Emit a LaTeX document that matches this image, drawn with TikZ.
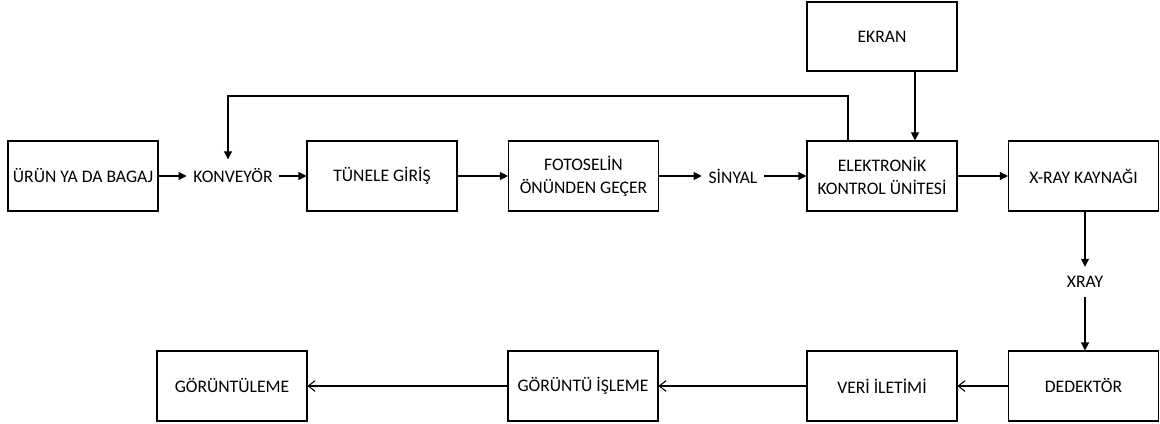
\documentclass[tikz,border=0pt]{standalone}
\usepackage{fontspec}
\setmainfont{Carlito}
\usetikzlibrary{arrows.meta,calc}

\tikzset{
  blk/.style={draw, line width=0.8pt, minimum width=112.5pt, minimum height=52.5pt,
              align=center, inner sep=2pt},
  lbl/.style={inner xsep=5pt, inner ysep=7pt},
  fa/.style={line width=0.8pt, -{Triangle[length=6pt,width=6pt]}},
  oa/.style={line width=0.8pt, -{Straight Barb[length=5pt,width=8pt,line width=0.8pt]}}
}

\begin{document}
\begin{tikzpicture}[x=0.75pt, y=-0.75pt,
  font=\fontsize{13.2}{17.5}\selectfont]
  \useasboundingbox (0,0) rectangle (1160,424);

  % top row
  \node[blk] (urun)   at (83,176)    {ÜRÜN YA DA BAGAJ};
  \node[lbl] (konv)   at (233,176)   {KONVEYÖR};
  \node[blk] (tunel)  at (382,176)   {TÜNELE GİRİŞ};
  \node[blk] (foto)   at (583.5,176) {FOTOSELİN\\ÖNÜNDEN GEÇER};
  \node[lbl] (sinyal) at (733,176)   {SİNYAL};
  \node[blk] (ecu)    at (882,176)   {ELEKTRONİK\\KONTROL ÜNİTESİ};
  \node[blk] (kaynak) at (1083.5,176){X-RAY KAYNAĞI};
  \node[blk, minimum height=51.75pt] (ekran) at (882,36.5) {EKRAN};

  % x-ray path
  \node[lbl] (xr)     at (1085,282)  {XRAY};

  % bottom row
  \node[blk] (ded)    at (1083.5,386){DEDEKTÖR};
  \node[blk] (veri)   at (882,386)   {VERİ İLETİMİ};
  \node[blk] (isl)    at (583,386)   {GÖRÜNTÜ İŞLEME};
  \node[blk] (gor)    at (232,386)   {GÖRÜNTÜLEME};

  % forward flow
  \draw[fa] (urun) -- (konv);
  \draw[fa] (konv) -- (tunel);
  \draw[fa] (tunel) -- (foto);
  \draw[fa] (foto) -- (sinyal);
  \draw[fa] (sinyal) -- (ecu);
  \draw[fa] (ecu) -- (kaynak);
  \draw[fa] ($(ekran.south)+(33,0)$) -- ($(ecu.north)+(33,0)$);

  % feedback from the control unit to the conveyor
  \coordinate (fb) at (228,96);
  \draw[fa] ($(ecu.north)+(-34,0)$) |- (fb) -- (fb |- konv.north);

  % x-ray source to detector
  \draw[fa] (kaynak.south -| xr) -- (xr.north);
  \draw[fa] (xr.south) -- (ded.north -| xr);

  % data path
  \draw[oa] (ded) -- (veri);
  \draw[oa] (veri) -- (isl);
  \draw[oa] (isl) -- (gor);
\end{tikzpicture}
\end{document}
